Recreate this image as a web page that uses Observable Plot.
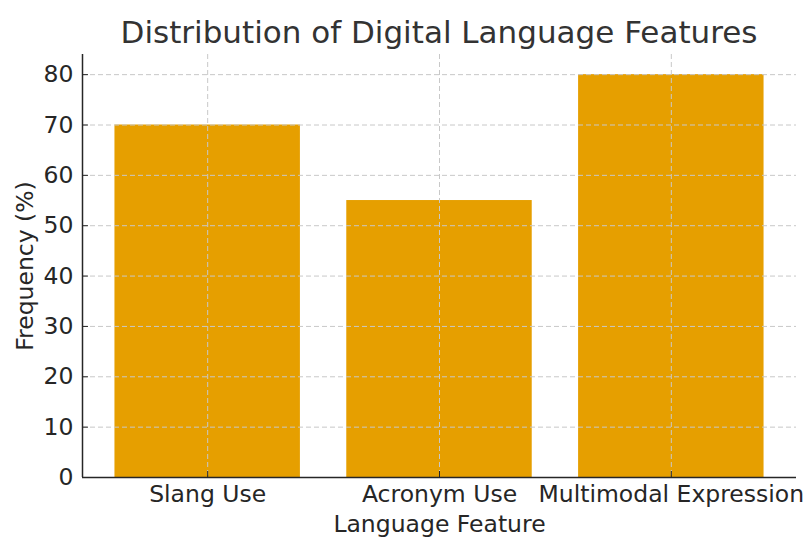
<!DOCTYPE html>
<html>
<head>
<meta charset="utf-8">
<script src="https://cdn.jsdelivr.net/npm/d3@7"></script>
<script src="https://cdn.jsdelivr.net/npm/@observablehq/plot@0.6"></script>
<style>
  body { margin: 0; background: #fff; font-family: "DejaVu Sans", sans-serif; }
  #title { box-sizing: border-box; height: 54px; padding-top: 17px; padding-left: 82px; width: 796px;
           text-align: center; font-size: 31px; line-height: 31px; color: #333; white-space: nowrap; }
</style>
</head>
<body>
<div id="title">Distribution of Digital Language Features</div>
<div id="chart"></div>
<script>
const features = ["Slang Use", "Acronym Use", "Multimodal Expression"];
const frequencies = [70, 55, 80];
const yTicks = [0, 10, 20, 30, 40, 50, 60, 70, 80];

const data = features.map((f, i) => ({feature: f, index: i, value: frequencies[i]}));
const idx = features.map((_, i) => i);
const xMin = -0.54, xMax = 2.54;
const gridStyle = {stroke: "#c8c8c8", strokeWidth: 1, strokeDasharray: "5,3"};
const fs = 23.5;

const chart = Plot.plot({
  width: 803,
  height: 484,
  marginTop: 0,
  marginLeft: 82,
  marginRight: 7,
  marginBottom: 61,
  style: {fontFamily: "DejaVu Sans, sans-serif", fontSize: fs + "px", color: "#262626", background: "white"},
  x: {domain: [xMin, xMax], axis: null},
  y: {domain: [0, 84], axis: null},
  marks: [
    Plot.rectY(data, {x1: d => d.index - 0.4, x2: d => d.index + 0.4, y1: 0, y2: "value", fill: "#E69F00"}),
    Plot.ruleX(idx, gridStyle),
    Plot.ruleY(yTicks.filter(t => t > 0), gridStyle),
    // spines
    Plot.ruleX([xMin], {stroke: "#262626", strokeWidth: 1.5}),
    Plot.ruleY([0], {stroke: "#262626", strokeWidth: 1.5}),
    // inward tick marks
    Plot.axisY({ticks: yTicks, tickSize: 6, dx: 6, tickFormat: () => "", stroke: "#262626", label: null}),
    Plot.axisX({ticks: idx, tickSize: 6, dy: -6, tickFormat: () => "", stroke: "#262626", label: null}),
    // tick labels
    Plot.axisY({ticks: yTicks, tickSize: 0, tickPadding: 9, tickFormat: d => String(d), fontSize: fs, fill: "#262626", label: null}),
    Plot.axisX({ticks: idx, tickSize: 0, tickPadding: 8, tickFormat: i => features[i], fontSize: fs, fill: "#262626", label: null}),
    // axis titles
    Plot.text(["Language Feature"], {frameAnchor: "bottom", dy: 47, fontSize: fs, fill: "#262626", lineAnchor: "middle"}),
    Plot.text(["Frequency (%)"], {frameAnchor: "left", dx: -57, rotate: -90, textAnchor: "middle", fontSize: fs, fill: "#262626", lineAnchor: "middle"})
  ]
});
document.getElementById("chart").appendChild(chart);
</script>
</body>
</html>
